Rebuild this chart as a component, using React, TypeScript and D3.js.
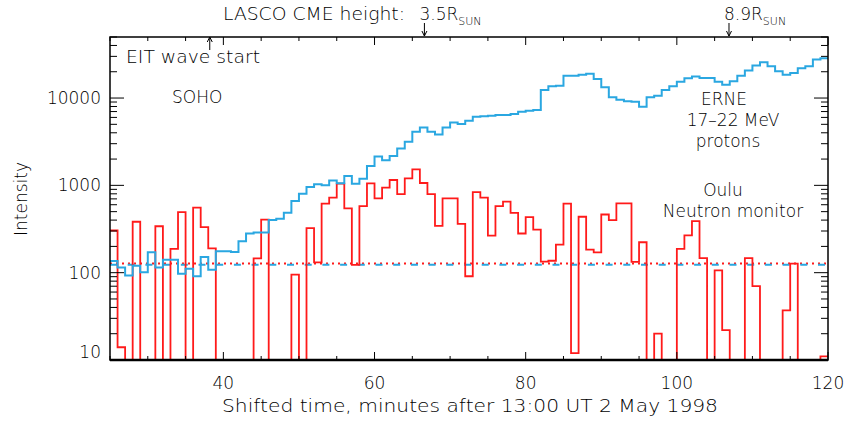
import React from 'react';
import * as d3 from 'd3';

// ---- data (1-minute bins starting at binStart) ----
const binStart = 25;
const binWidth = 1;

const erneProtons = [
  136, 115, 93, 120, 101, 171, 115, 141, 141, 97,
  111, 91, 151, 108, 176, 176, 173, 229, 281, 288,
  288, 400, 414, 485, 661, 803, 957, 1027, 1000, 1140,
  1054, 1280, 1045, 1194, 1667, 2138, 1936, 2173, 2642, 3148,
  4105, 4608, 4105, 3829, 4608, 5258, 5050, 5500, 6100, 6166,
  6270, 6378, 6378, 6550, 6960, 7150, 7280, 12360, 13620, 13850,
  18030, 18030, 18500, 19000, 16530, 13270, 10180, 9550, 9160, 9070,
  7940, 10180, 10610, 12360, 13620, 15380, 16830, 17590, 16980, 16980,
  15380, 14220, 15560, 18030, 20620, 23510, 25720, 23120, 20290, 18530,
  19370, 21920, 23120, 27550, 28580,
];

const ouluNeutron = [
  304, 14, 0, 383, 0, 0, 340, 0, 187, 493,
  0, 555, 332, 190, 0, 0, 0, 0, 0, 146,
  406, 0, 0, 0, 95, 0, 323, 131, 617, 722,
  1045, 545, 123, 578, 1054, 710, 942, 1152, 795, 1202,
  1527, 1064, 795, 344, 710, 710, 363, 91, 838, 722,
  266, 578, 650, 485, 281, 432, 312, 134, 137, 210,
  617, 12, 437, 184, 171, 464, 399, 621, 621, 133,
  223, 0, 20, 0, 0, 187, 268, 389, 147, 0,
  106, 22, 0, 0, 147, 70, 0, 0, 0, 37,
  127, 0, 0, 0, 11,
];

const erneBackground = 123;
const ouluBackground = 127;

const xDomain = [25, 120];
const yDomain = [10, 50000];
const xMajorTicks = [40, 60, 80, 100, 120];
const yMajorTicks = [10, 100, 1000, 10000];

const lascoMarks = [
  { t: 66.6, label: '3.5R' },
  { t: 106.9, label: '8.9R' },
];
const eitStart = 38.2;

// ---- layout ----
const W = 849;
const H = 421;
const left = 110;
const right = 828;
const top = 37;
const bottom = 360;

const BLUE = '#2aa7e1';
const RED = '#ff1a1a';
const FONT = '"DejaVu Sans", sans-serif';
const FW = 200;

export default function App() {
  const x = d3.scaleLinear().domain(xDomain).range([left, right]);
  const y = d3.scaleLog().domain(yDomain).range([bottom, top]);
  const yv = (v: number) => y(Math.max(v, yDomain[0]));

  const toPoints = (vals: number[]) => {
    const pts: [number, number][] = vals.map((v, i) => [binStart + i * binWidth, v]);
    pts.push([binStart + vals.length * binWidth, vals[vals.length - 1]]);
    return pts;
  };
  const line = d3
    .line<[number, number]>()
    .x((d) => x(d[0]))
    .y((d) => yv(d[1]))
    .curve(d3.curveStepAfter);

  const xMinor = x.ticks(19).filter((t) => !xMajorTicks.includes(t));
  const yMinor = y.ticks().filter((t) => !yMajorTicks.includes(t) && t <= yDomain[1]);

  const majX = 8, minX = 4, majY = 14, minY = 7;

  return (
    <svg
      width={W}
      height={H}
      style={{ position: 'absolute', left: 0, top: 0, background: '#fff' }}
      fontFamily={FONT}
      fontWeight={FW}
    >
      <rect x={0} y={0} width={W} height={H} fill="#fff" />
      <defs>
        <clipPath id="plot">
          <rect x={left} y={top} width={right - left} height={bottom - top} />
        </clipPath>
      </defs>

      <g clipPath="url(#plot)">
        <line
          x1={x(xDomain[0])} x2={x(xDomain[1])} y1={y(ouluBackground)} y2={y(ouluBackground)}
          stroke={RED} strokeWidth={2} strokeDasharray="2 4"
        />
        <line
          x1={x(xDomain[0])} x2={x(xDomain[1])} y1={y(erneBackground)} y2={y(erneBackground)}
          stroke={BLUE} strokeWidth={2} strokeDasharray="7 10.7"
        />
        <path d={line(toPoints(ouluNeutron)) || ''} fill="none" stroke={RED} strokeWidth={1.8} />
        <path d={line(toPoints(erneProtons)) || ''} fill="none" stroke={BLUE} strokeWidth={2} />
      </g>

      {/* frame */}
      <rect x={left} y={top} width={right - left} height={bottom - top} fill="none" stroke="#000" strokeWidth={1.5} />
      <line x1={left} x2={right} y1={bottom} y2={bottom} stroke="#000" strokeWidth={2.5} />

      {/* x ticks bottom and top */}
      {xMajorTicks.map((t) => (
        <g key={'xM' + t}>
          <line x1={x(t)} x2={x(t)} y1={bottom} y2={bottom - majX} stroke="#000" />
          <line x1={x(t)} x2={x(t)} y1={top} y2={top + majX} stroke="#000" />
          <text x={x(t)} y={389} textAnchor="middle" fontSize={17}>{t}</text>
        </g>
      ))}
      {xMinor.map((t) => (
        <g key={'xm' + t}>
          <line x1={x(t)} x2={x(t)} y1={bottom} y2={bottom - minX} stroke="#000" />
          <line x1={x(t)} x2={x(t)} y1={top} y2={top + minX} stroke="#000" />
        </g>
      ))}

      {/* y ticks left and right */}
      {yMajorTicks.map((v) => (
        <g key={'yM' + v}>
          <line x1={left} x2={left + majY} y1={y(v)} y2={y(v)} stroke="#000" />
          <line x1={right} x2={right - majY} y1={y(v)} y2={y(v)} stroke="#000" />
          <text
            x={101}
            y={Math.min(y(v), bottom - 8)}
            textAnchor="end"
            dominantBaseline="central"
            fontSize={17}
          >
            {v}
          </text>
        </g>
      ))}
      {yMinor.map((v) => (
        <g key={'ym' + v}>
          <line x1={left} x2={left + minY} y1={y(v)} y2={y(v)} stroke="#000" />
          <line x1={right} x2={right - minY} y1={y(v)} y2={y(v)} stroke="#000" />
        </g>
      ))}

      {/* axis titles */}
      <text x={222} y={412} fontSize={17} textLength={496} lengthAdjust="spacingAndGlyphs">
        Shifted time, minutes after 13:00 UT  2 May 1998
      </text>
      <text
        transform={`translate(27,199) rotate(-90)`}
        textAnchor="middle"
        fontSize={17}
      >
        Intensity
      </text>

      {/* LASCO annotation */}
      <text x={223} y={20} fontSize={17} textLength={182} lengthAdjust="spacingAndGlyphs">
        LASCO CME height:
      </text>
      {lascoMarks.map((m, i) => (
        <g key={'l' + i}>
          <text x={x(m.t) - 5} y={20} fontSize={17}>
            {m.label}
            <tspan dy={5} fontSize={11}>SUN</tspan>
          </text>
          <line x1={x(m.t)} x2={x(m.t)} y1={23} y2={36} stroke="#000" strokeWidth={1} />
          <path
            d={`M${x(m.t) - 2.5},${31} L${x(m.t)},${36} L${x(m.t) + 2.5},${31}`}
            fill="none"
            stroke="#000"
            strokeWidth={1}
          />
        </g>
      ))}

      {/* EIT annotation */}
      <text x={126} y={63} fontSize={17} textLength={134} lengthAdjust="spacingAndGlyphs">
        EIT wave start
      </text>
      <line x1={x(eitStart)} x2={x(eitStart)} y1={50} y2={37} stroke="#000" strokeWidth={1} />
      <path
        d={`M${x(eitStart) - 2.5},${42} L${x(eitStart)},${37} L${x(eitStart) + 2.5},${42}`}
        fill="none"
        stroke="#000"
        strokeWidth={1}
      />

      <text x={172} y={103} fontSize={17}>SOHO</text>

      <text x={724} y={105} textAnchor="middle" fontSize={17}>ERNE</text>
      <text x={733} y={126} textAnchor="middle" fontSize={17}>17–22 MeV</text>
      <text x={728} y={147} textAnchor="middle" fontSize={17}>protons</text>

      <text x={723} y={196} textAnchor="middle" fontSize={17}>Oulu</text>
      <text x={733} y={217} textAnchor="middle" fontSize={17}>Neutron monitor</text>
    </svg>
  );
}
